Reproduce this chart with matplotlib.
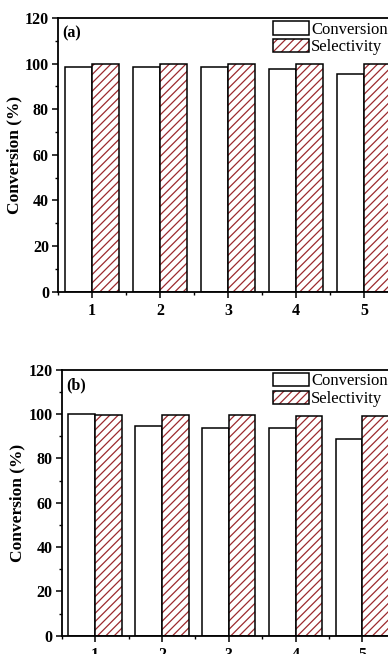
import matplotlib
matplotlib.use("Agg")
import matplotlib.pyplot as plt
import numpy as np
from matplotlib.ticker import MultipleLocator
from matplotlib.patches import Patch

plt.rcParams['font.family'] = ['Liberation Serif', 'DejaVu Serif']
plt.rcParams['hatch.linewidth'] = 0.9

cycles = [1, 2, 3, 4, 5]
conv_a = [98.6, 98.6, 98.3, 97.5, 95.5]
sel_a = [99.9, 99.9, 99.9, 99.9, 99.9]
conv_b = [99.8, 94.4, 93.9, 93.9, 88.9]
sel_b = [99.7, 99.7, 99.7, 99.2, 99.2]
panel_tags = ['(a)', '(b)']

hatch_red = '#9c2a2e'
bar_w = 0.4

fig = plt.figure(figsize=(3.88, 6.54), dpi=100)
ax_a = fig.add_axes([0.1495, 0.554, 0.876, 0.4185])
ax_b = fig.add_axes([0.159, 0.028, 0.861, 0.4067])


def draw_panel(ax, conv, sel, tag):
    x = np.array(cycles, dtype=float)
    ax.bar(x - bar_w / 2, conv, width=bar_w, facecolor='white',
           edgecolor='black', linewidth=1.1, zorder=2)
    ax.bar(x + bar_w / 2, sel, width=bar_w, facecolor='white',
           edgecolor=hatch_red, linewidth=0, hatch='////', zorder=2)
    ax.bar(x + bar_w / 2, sel, width=bar_w, facecolor='none',
           edgecolor='black', linewidth=1.1, zorder=3)
    # legend handles: plain box and hatched box with black outline
    h1 = Patch(facecolor='white', edgecolor='black', linewidth=1.1)
    h2 = Patch(facecolor='white', edgecolor=hatch_red, hatch='////', linewidth=0)
    h2b = Patch(facecolor='none', edgecolor='black', linewidth=1.1)
    ax.legend([h1, (h2, h2b)], ['Conversion', 'Selectivity'],
              loc='upper left', bbox_to_anchor=(0.632, 0.988),
              frameon=False, fontsize=12, handlelength=2.15,
              handleheight=0.85, handletextpad=0.15, labelspacing=0.08,
              borderpad=0, borderaxespad=0)
    ax.set_xlim(0.5, 5.5)
    ax.set_ylim(0, 120)
    ax.set_xticks(cycles)
    ax.set_xticklabels([str(c) for c in cycles])
    ax.xaxis.set_minor_locator(MultipleLocator(0.5))
    ax.yaxis.set_major_locator(MultipleLocator(20))
    ax.yaxis.set_minor_locator(MultipleLocator(10))
    ax.tick_params(axis='both', which='major', direction='out', length=4.5,
                   width=1.1, labelsize=11.5, pad=2)
    ax.tick_params(axis='both', which='minor', direction='out', length=2.5,
                   width=1.0)
    ax.tick_params(axis='x', which='major', pad=4)
    for lab in ax.get_xticklabels() + ax.get_yticklabels():
        lab.set_fontweight('bold')
    for s in ax.spines.values():
        s.set_linewidth(1.3)
    ax.set_ylabel('Conversion (%)', fontsize=12.5, fontweight='bold', labelpad=2)
    ax.text(0.013, 0.972, tag, transform=ax.transAxes, fontsize=11.5,
            fontweight='bold', va='top', ha='left')


draw_panel(ax_a, conv_a, sel_a, panel_tags[0])
draw_panel(ax_b, conv_b, sel_b, panel_tags[1])

fig.savefig('out.png', dpi=100)
